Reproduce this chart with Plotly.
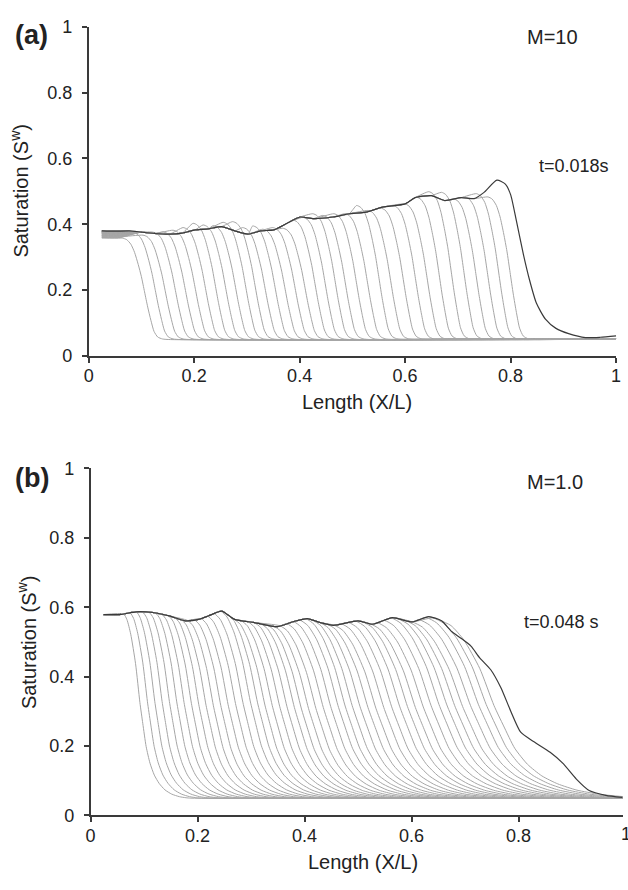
import numpy as np
import plotly.graph_objects as go

# ---------------- Panel (a): M=10 ----------------
# final profile (black, t=0.018 s)
A_FINAL_X = [0.025, 0.05, 0.078, 0.10, 0.125, 0.153, 0.177, 0.202, 0.227, 0.252, 0.277, 0.302,
             0.326, 0.351, 0.376, 0.401, 0.426, 0.463, 0.494, 0.526, 0.557, 0.600, 0.619, 0.650,
             0.675, 0.706, 0.731, 0.749, 0.774, 0.790, 0.800, 0.811, 0.824, 0.836, 0.849, 0.866,
             0.886, 0.910, 0.942, 0.970, 1.0]
A_FINAL_Y = [0.380, 0.379, 0.380, 0.376, 0.372, 0.370, 0.373, 0.383, 0.386, 0.393, 0.380, 0.370,
             0.380, 0.383, 0.403, 0.422, 0.417, 0.422, 0.432, 0.437, 0.452, 0.462, 0.481, 0.487,
             0.472, 0.481, 0.478, 0.496, 0.534, 0.522, 0.490, 0.410, 0.310, 0.230, 0.160, 0.112,
             0.084, 0.068, 0.056, 0.057, 0.061]
# earlier profiles (grey): front position (at S=0.25), overshoot at front top, inlet value
A_FRONT_MID = [0.100, 0.120, 0.139, 0.158, 0.177, 0.196, 0.215, 0.234, 0.253, 0.272, 0.291, 0.309,
               0.328, 0.347, 0.366, 0.385, 0.404, 0.423, 0.442, 0.461, 0.480, 0.501, 0.522, 0.544,
               0.566, 0.590, 0.613, 0.635, 0.658, 0.681, 0.705, 0.728, 0.750, 0.771, 0.793]
A_FRONT_BUMP = [0.0, 0.015, 0.005, 0.0, 0.005, 0.01, 0.02, 0.03, 0.015, 0.01, 0.02, 0.015,
                0.01, 0.025, 0.015, 0.01, 0.005, 0.01, 0.018, 0.01, 0.01, 0.015, 0.01, 0.025,
                0.01, 0.012, 0.005, 0.01, 0.02, 0.018, 0.01, 0.005, 0.01, 0.012, 0.005]
A_START_Y = [0.358, 0.360, 0.362, 0.360, 0.364, 0.362, 0.366, 0.365, 0.368, 0.366, 0.370, 0.368,
             0.372, 0.370, 0.374, 0.372, 0.375, 0.373, 0.376, 0.374, 0.377, 0.375, 0.378, 0.376,
             0.378, 0.377, 0.379, 0.378, 0.380, 0.379, 0.380, 0.379, 0.380, 0.380, 0.380]
# front shape (offset from S=0.25 point, fraction of jump)
A_SHAPE_DX = [-0.036, -0.028, -0.020, -0.013, -0.006, 0.0, 0.006, 0.012, 0.018, 0.024, 0.031, 0.040, 0.055]
A_SHAPE_F = [1.0, 0.985, 0.94, 0.86, 0.74, 0.62, 0.47, 0.32, 0.19, 0.08, 0.025, 0.006, 0.0]
A_BASE = 0.050
A_END = 0.053

# ---------------- Panel (b): M=1.0 ----------------
B_FINAL_X = [0.024, 0.055, 0.085, 0.116, 0.147, 0.177, 0.202, 0.220, 0.245, 0.269, 0.306, 0.349,
             0.380, 0.405, 0.429, 0.454, 0.500, 0.527, 0.564, 0.601, 0.632, 0.656, 0.675, 0.693,
             0.711, 0.727, 0.748, 0.767, 0.785, 0.804, 0.828, 0.859, 0.883, 0.908, 0.932, 0.963, 0.994]
B_FINAL_Y = [0.579, 0.579, 0.587, 0.585, 0.575, 0.561, 0.565, 0.575, 0.589, 0.565, 0.556, 0.544,
             0.559, 0.567, 0.556, 0.548, 0.561, 0.551, 0.570, 0.558, 0.573, 0.561, 0.530, 0.510,
             0.488, 0.455, 0.420, 0.368, 0.302, 0.240, 0.213, 0.182, 0.150, 0.105, 0.072, 0.058, 0.052]
B_FRONT_MID = [0.0975, 0.112, 0.126, 0.140, 0.154, 0.168, 0.182, 0.196, 0.210, 0.224, 0.238, 0.252,
               0.266, 0.280, 0.294, 0.308, 0.322, 0.336, 0.350, 0.364, 0.378, 0.392, 0.405, 0.419,
               0.433, 0.447, 0.461, 0.475, 0.488, 0.502, 0.517, 0.532, 0.547, 0.562, 0.577, 0.592,
               0.607, 0.622, 0.637, 0.652, 0.667, 0.682, 0.697, 0.712, 0.727, 0.742, 0.757, 0.772]
B_FRONT_WIDTH = [0.090, 0.096, 0.102, 0.107, 0.112, 0.117, 0.122, 0.127, 0.132, 0.137, 0.141, 0.145,
                 0.149, 0.153, 0.157, 0.161, 0.165, 0.169, 0.173, 0.177, 0.181, 0.185, 0.189, 0.193,
                 0.197, 0.201, 0.205, 0.209, 0.213, 0.217, 0.221, 0.225, 0.229, 0.233, 0.237, 0.241,
                 0.245, 0.249, 0.253, 0.258, 0.263, 0.268, 0.273, 0.278, 0.283, 0.288, 0.293, 0.298]
B_SHAPE_G = [-0.40, -0.33, -0.25, -0.15, -0.06, 0.0, 0.07, 0.15, 0.24, 0.34, 0.46, 0.60, 0.76, 0.90, 1.0]
B_SHAPE_F = [1.0, 0.97, 0.89, 0.73, 0.52, 0.406, 0.28, 0.19, 0.125, 0.08, 0.045, 0.022, 0.008, 0.002, 0.0]
B_BASE = 0.050

TICK_VALS = [0, 0.2, 0.4, 0.6, 0.8, 1.0]
TICK_TEXT = ["0", "0.2", "0.4", "0.6", "0.8", "1"]

GREY = "#a6a6a6"
DARK = "#3a3a3a"
FONT = "Liberation Sans, Arial, Helvetica, sans-serif"
W, H = 628, 890

fig = go.Figure()

# ----- panel (a) grey curves -----
for mid, bump, start in zip(A_FRONT_MID, A_FRONT_BUMP, A_START_Y):
    x_top = mid + A_SHAPE_DX[0]
    px = [0.025, 0.06]
    py = [start, start]
    for xe, ye in zip(A_FINAL_X, A_FINAL_Y):
        if 0.1 <= xe < x_top - 0.008:
            px.append(xe)
            py.append(ye)
    top = py[-1] + bump
    fx = [mid + d for d in A_SHAPE_DX]
    fy = [A_BASE + f * (top - A_BASE) for f in A_SHAPE_F]
    xs = px + fx + [1.0]
    ys = py + fy + [A_END]
    fig.add_trace(go.Scatter(x=xs, y=ys, mode="lines", xaxis="x", yaxis="y",
                             line=dict(color=GREY, width=1, shape="spline", smoothing=0.6),
                             hoverinfo="skip"))
fig.add_trace(go.Scatter(x=A_FINAL_X, y=A_FINAL_Y, mode="lines", xaxis="x", yaxis="y",
                         line=dict(color=DARK, width=1.2, shape="spline", smoothing=0.6)))

# ----- panel (b) grey curves -----
for mid, w in zip(B_FRONT_MID, B_FRONT_WIDTH):
    x_top = mid + w * B_SHAPE_G[0]
    px, py = [], []
    for xe, ye in zip(B_FINAL_X, B_FINAL_Y):
        if xe < x_top - 0.008:
            px.append(xe)
            py.append(ye)
    top = float(np.interp(x_top, B_FINAL_X, B_FINAL_Y))
    fx = [mid + w * g for g in B_SHAPE_G]
    fy = [B_BASE + f * (top - B_BASE) for f in B_SHAPE_F]
    xs = px + fx
    ys = py + fy
    if xs[-1] < 1.0:
        xs = xs + [1.0]
        ys = ys + [B_BASE]
    fig.add_trace(go.Scatter(x=xs, y=ys, mode="lines", xaxis="x2", yaxis="y2",
                             line=dict(color=GREY, width=1, shape="spline", smoothing=0.6),
                             hoverinfo="skip"))
fig.add_trace(go.Scatter(x=B_FINAL_X, y=B_FINAL_Y, mode="lines", xaxis="x2", yaxis="y2",
                         line=dict(color=DARK, width=1.2, shape="spline", smoothing=0.6)))

axis_common = dict(showline=True, linecolor=DARK, linewidth=1.6, ticks="outside", ticklen=5,
                   tickwidth=1.6, tickcolor=DARK, showgrid=False, zeroline=False,
                   tickvals=TICK_VALS, ticktext=TICK_TEXT,
                   tickfont=dict(family=FONT, size=18, color="#222"))

fig.update_layout(
    width=W, height=H,
    margin=dict(l=0, r=0, t=0, b=0),
    paper_bgcolor="white", plot_bgcolor="white",
    showlegend=False,
    xaxis=dict(domain=[85 / W, 621 / W], range=[0, 1], anchor="y", ticklabelstandoff=-2, **axis_common),
    yaxis=dict(domain=[1 - 354 / H, 1 - 17 / H], range=[0, 1], anchor="x", ticklabelstandoff=6, **axis_common),
    xaxis2=dict(domain=[87 / W, 1.0], range=[0, (W - 87) / 543.6], anchor="y2", ticklabelstandoff=-2, **axis_common),
    yaxis2=dict(domain=[1 - 824 / H, 1 - 469 / H], range=[0, 1], anchor="x2", ticklabelstandoff=6, **axis_common),
)


def ann(text, xpx, ypx, size, bold=False, angle=0):
    fig.add_annotation(text=f"<b>{text}</b>" if bold else text, x=xpx / W, y=1 - ypx / H,
                       xref="paper", yref="paper", showarrow=False, textangle=angle,
                       xanchor="center", yanchor="middle",
                       font=dict(family=FONT, size=size, color="#222"))


ann("(a)", 27, 26, 27, bold=True)
ann("M=10", 556, 28, 20)
ann("t=0.018s", 578, 160, 18)
ann("Length (X/L)", 358, 401, 20)
ann("Saturation (S<sup>w</sup>)", 15, 185, 20, angle=-90)

ann("(b)", 27, 479, 27, bold=True)
ann("M=1.0", 559, 483, 20)
ann("t=0.048 s", 565, 626, 18)
ann("Length (X/L)", 364, 872, 20)
ann("Saturation (S<sup>w</sup>)", 22, 647, 20, angle=-90)
# clipped "1" tick label of panel (b) at the window edge
ann("1", 630.6, 843, 18)

fig.write_html("out.html")
